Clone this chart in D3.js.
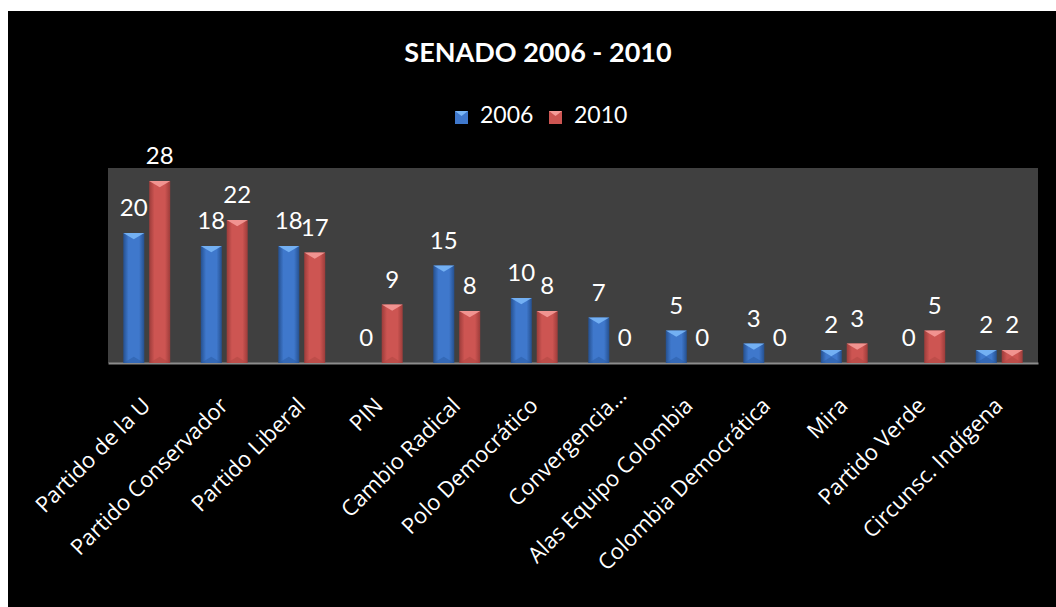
<!DOCTYPE html>
<html>
<head>
<meta charset="utf-8">
<script src="https://cdn.jsdelivr.net/npm/d3@7"></script>
<style>
    html, body { margin: 0; padding: 0; background: #ffffff; }
</style>
</head>
<body>
<div id="chart-container"></div>
<script>
const categories = [
    "Partido de la U", "Partido Conservador", "Partido Liberal", "PIN", "Cambio Radical",
    "Polo Democrático", "Convergencia…", "Alas Equipo Colombia", "Colombia Democrática",
    "Mira", "Partido Verde", "Circunsc. Indígena"
];
const seriesNames = ["2006", "2010"];
const values2006 = [20, 18, 18, 0, 15, 10, 7, 5, 3, 2, 0, 2];
const values2010 = [28, 22, 17, 9, 8, 8, 0, 0, 0, 3, 5, 2];
const chartTitle = "SENADO 2006 - 2010";

const colorMapping = {
    '2006': {edge: '#25508f', mid: '#3f78cc', top: '#79b6f7', bottom: '#2d5fa8'},
    '2010': {edge: '#9c3c3a', mid: '#cd5552', top: '#f59a97', bottom: '#b24744'}
};
const chartWidth = 1056;
const chartHeight = 607;
const plotArea = {left: 108, right: 1038, top: 168, bottom: 363};

/**
 * Create the scales
 * @returns The scales
 */
function createScales() {
    const xScale = d3.scaleBand()
        .domain(categories)
        .range([plotArea.left, plotArea.right]);

    const xSub = d3.scaleBand()
        .domain(seriesNames)
        .range([0, xScale.bandwidth()])
        .paddingInner(0.19)
        .paddingOuter(0.59);

    const yScale = d3.scaleLinear()
        .domain([0, 30])
        .range([plotArea.bottom, plotArea.top]);

    return {xScale, xSub, yScale};
}

/**
 * Create the svg with the black frame, title and gradients
 * @returns The svg
 */
function createSvg() {
    const chartSvg = d3.select("#chart-container").append("svg")
        .attr("width", chartWidth)
        .attr("height", chartHeight);

    chartSvg.append("rect")
        .attr("x", 8)
        .attr("y", 11)
        .attr("width", chartWidth - 8)
        .attr("height", chartHeight - 11)
        .attr("fill", "#000000");

    const defs = chartSvg.append("defs");
    for (const [name, c] of Object.entries(colorMapping)) {
        const grad = defs.append("linearGradient")
            .attr("id", "grad-" + name)
            .attr("x1", "0").attr("x2", "1").attr("y1", "0").attr("y2", "0");
        grad.append("stop").attr("offset", "0%").attr("stop-color", c.edge);
        grad.append("stop").attr("offset", "25%").attr("stop-color", c.mid);
        grad.append("stop").attr("offset", "75%").attr("stop-color", c.mid);
        grad.append("stop").attr("offset", "100%").attr("stop-color", c.edge);
    }

    chartSvg.append("text")
        .attr("x", 538)
        .attr("y", 62)
        .attr("text-anchor", "middle")
        .attr("fill", "white")
        .style("font-family", "Lato, sans-serif")
        .style("font-weight", "bold")
        .style("font-size", "27px")
        .text(chartTitle);

    return chartSvg;
}

/**
 * Draw the plot background and the axis
 */
function drawAxes(chartSvg, xScale, yScale) {
    chartSvg.append("rect")
        .attr("x", plotArea.left)
        .attr("y", plotArea.top)
        .attr("width", plotArea.right - plotArea.left)
        .attr("height", plotArea.bottom - plotArea.top)
        .attr("fill", "#404040");

    const xAxis = d3.axisBottom(xScale).tickSize(0).tickPadding(0);
    const axisGroup = chartSvg.append("g")
        .attr("transform", `translate(0, ${yScale(0)})`)
        .call(xAxis);

    axisGroup.select(".domain")
        .attr("stroke", "#8c8c8c")
        .attr("stroke-width", 2);

    // Excel pushes the truncated label further along its baseline
    axisGroup.selectAll(".tick text")
        .attr("fill", "white")
        .attr("text-anchor", "end")
        .attr("dy", null)
        .attr("y", null)
        .attr("font-family", "Open Sans")
        .attr("font-size", 22)
        .attr("transform", d => d.endsWith("…")
            ? "translate(16, 34) rotate(-45)"
            : "translate(5, 44) rotate(-45)");
}

/**
 * Draw one bar with its bevel
 */
function drawBar(g, x, y0, y1, w, series) {
    const c = colorMapping[series];
    const h = y0 - y1;
    g.append("rect")
        .attr("x", x).attr("y", y1)
        .attr("width", w).attr("height", h)
        .attr("fill", `url(#grad-${series})`);
    const tri = Math.min(8, h / 2, w * 0.3);
    g.append("path")
        .attr("d", `M${x},${y1}L${x + w},${y1}L${x + w / 2},${y1 + tri}Z`)
        .attr("fill", c.top)
        .attr("opacity", 0.9);
    g.append("path")
        .attr("d", `M${x},${y0}L${x + w},${y0}L${x + w / 2},${y0 - tri}Z`)
        .attr("fill", c.bottom)
        .attr("opacity", 0.6);
}

/**
 * Create the bars and their labels
 */
function createBars(chartSvg, xScale, xSub, yScale) {
    const barGroup = chartSvg.append("g");
    const data = [];
    categories.forEach((cat, i) => {
        data.push({cat: cat, series: "2006", value: values2006[i]});
        data.push({cat: cat, series: "2010", value: values2010[i]});
    });

    data.forEach(d => {
        const x = xScale(d.cat) + xSub(d.series);
        if (d.value > 0) {
            drawBar(barGroup, x, yScale(0), yScale(d.value), xSub.bandwidth(), d.series);
        }
        barGroup.append("text")
            .attr("x", x + xSub.bandwidth() / 2)
            .attr("y", yScale(d.value) - 17)
            .attr("text-anchor", "middle")
            .attr("fill", "white")
            .style("font-family", "Lato, sans-serif")
            .style("font-size", "24px")
            .text(d.value);
    });
}

/**
 * Create the color legend
 */
function createColorLegend(chartSvg) {
    const positions = [455, 549];
    seriesNames.forEach((name, i) => {
        const c = colorMapping[name];
        const g = chartSvg.append("g")
            .attr("transform", `translate(${positions[i]}, 111)`);
        g.append("rect")
            .attr("width", 13)
            .attr("height", 13)
            .attr("fill", c.mid);
        g.append("path")
            .attr("d", "M0,0L13,0L6.5,5Z")
            .attr("fill", c.top);
        g.append("text")
            .attr("x", 25)
            .attr("y", 12)
            .attr("fill", "white")
            .style("font-family", "Lato, sans-serif")
            .style("font-size", "23px")
            .text(name);
    });
}

const {xScale, xSub, yScale} = createScales();
const chartSvg = createSvg();
drawAxes(chartSvg, xScale, yScale);
createBars(chartSvg, xScale, xSub, yScale);
createColorLegend(chartSvg);
</script>
</body>
</html>
